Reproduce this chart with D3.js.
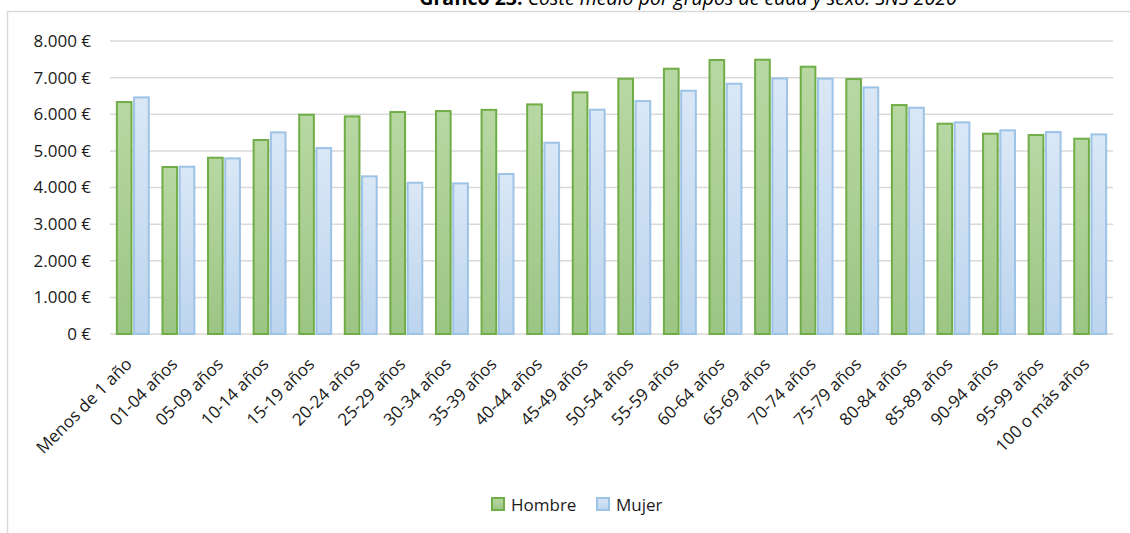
<!DOCTYPE html>
<html>
<head>
<meta charset="utf-8">
<script src="https://cdn.jsdelivr.net/npm/d3@7"></script>
<style>
  body { margin: 0; background: #fff; }
  svg { display: block; font-family: "Open Sans", sans-serif; }
</style>
</head>
<body>
<div id="root"></div>
<script>
const categories = ["Menos de 1 año", "01-04 años", "05-09 años", "10-14 años", "15-19 años",
  "20-24 años", "25-29 años", "30-34 años", "35-39 años", "40-44 años", "45-49 años",
  "50-54 años", "55-59 años", "60-64 años", "65-69 años", "70-74 años", "75-79 años",
  "80-84 años", "85-89 años", "90-94 años", "95-99 años", "100 o más años"];
const hombre = [6333, 4559, 4813, 5296, 5987, 5942, 6060, 6087, 6120, 6269, 6597,
  6970, 7243, 7480, 7489, 7298, 6961, 6251, 5742, 5469, 5432, 5332];
const mujer = [6460, 4568, 4795, 5505, 5077, 4304, 4131, 4113, 4368, 5223, 6124,
  6360, 6642, 6833, 6979, 6970, 6733, 6178, 5778, 5560, 5514, 5450];
const yTicks = [0, 1000, 2000, 3000, 4000, 5000, 6000, 7000, 8000];
const seriesNames = ["Hombre", "Mujer"];

const width = 1130, height = 533;
const margin = { top: 41, right: 17, bottom: 199, left: 110 };

const svg = d3.select("#root").append("svg")
  .attr("width", width)
  .attr("height", height);

// gradientes de relleno
const defs = svg.append("defs");
const grads = [
  { id: "gH", top: "#b8d8a3", bottom: "#9cc584" },
  { id: "gM", top: "#dae7f6", bottom: "#bcd5ee" }
];
grads.forEach(g => {
  const lg = defs.append("linearGradient").attr("id", g.id)
    .attr("x1", 0).attr("y1", 0).attr("x2", 0).attr("y2", 1);
  lg.append("stop").attr("offset", "0%").attr("stop-color", g.top);
  lg.append("stop").attr("offset", "100%").attr("stop-color", g.bottom);
});
const fills = { Hombre: "url(#gH)", Mujer: "url(#gM)" };
const strokes = { Hombre: "#70ad47", Mujer: "#9dc3e6" };

// marco
svg.append("rect")
  .attr("x", 7.5).attr("y", 11.5)
  .attr("width", width + 20).attr("height", height + 20)
  .attr("fill", "none").attr("stroke", "#d9d9d9").attr("stroke-width", 1.5);

// título (cortado arriba, como en el original)
const title = svg.append("text")
  .attr("x", 688).attr("y", 5)
  .attr("text-anchor", "middle")
  .attr("font-size", 19.5)
  .attr("fill", "#000");
title.append("tspan").attr("font-weight", "bold").text("Gráfico 23. ");
title.append("tspan").attr("font-style", "italic").text("Coste medio por grupos de edad y sexo. SNS 2020");

const x0 = d3.scaleBand()
  .domain(categories)
  .range([margin.left, width - margin.right])
  .paddingInner(0.3)
  .paddingOuter(0.15);

const x1 = d3.scaleBand()
  .domain(seriesNames)
  .range([0, x0.bandwidth()])
  .paddingInner(0.15);

const y = d3.scaleLinear()
  .domain([0, 8000])
  .range([height - margin.bottom, margin.top]);

const fmt = v => (v === 0 ? "0" : d3.format(",")(v).replace(/,/g, ".")) + " €";

// líneas de cuadrícula
svg.append("g")
  .selectAll("line")
  .data(yTicks)
  .join("line")
  .attr("x1", margin.left).attr("x2", width - margin.right)
  .attr("y1", d => y(d)).attr("y2", d => y(d))
  .attr("stroke", "#d9d9d9").attr("stroke-width", 1.5);

// eje Y
const yAxis = svg.append("g")
  .attr("transform", `translate(${margin.left},0)`)
  .call(d3.axisLeft(y).tickValues(yTicks).tickFormat(fmt).tickSize(0).tickPadding(19));
yAxis.select(".domain").remove();
yAxis.selectAll("text").attr("font-size", 17).attr("fill", "#1a1a1a")
  .attr("font-family", "'Open Sans', sans-serif");

// barras
const rows = categories.map((c, i) => ({ cat: c, values: [
  { key: "Hombre", value: hombre[i] },
  { key: "Mujer", value: mujer[i] }
] }));

const groups = svg.append("g")
  .selectAll("g")
  .data(rows)
  .join("g")
  .attr("transform", d => `translate(${x0(d.cat)},0)`);

groups.selectAll("rect")
  .data(d => d.values)
  .join("rect")
  .attr("x", d => x1(d.key))
  .attr("y", d => y(d.value))
  .attr("width", x1.bandwidth())
  .attr("height", d => y(0) - y(d.value))
  .attr("fill", d => fills[d.key])
  .attr("stroke", d => strokes[d.key])
  .attr("stroke-width", 2);

// eje X
const xAxis = svg.append("g")
  .attr("transform", `translate(0,${y(0)})`)
  .call(d3.axisBottom(x0).tickSize(0).tickPadding(0));
xAxis.select(".domain").remove();
xAxis.selectAll("text")
  .attr("font-size", 17).attr("fill", "#1a1a1a")
  .attr("font-family", "'Open Sans', sans-serif")
  .attr("text-anchor", "end")
  .attr("dy", "0.35em")
  .attr("transform", "translate(-4,27) rotate(-45)");

// leyenda
const legend = svg.append("g");
const legendItems = [
  { key: "Hombre", x: 492 },
  { key: "Mujer", x: 597 }
];
legendItems.forEach(it => {
  legend.append("rect")
    .attr("x", it.x).attr("y", 498)
    .attr("width", 12).attr("height", 12)
    .attr("fill", fills[it.key]).attr("stroke", strokes[it.key]).attr("stroke-width", 2);
  legend.append("text")
    .attr("x", it.x + 19).attr("y", 511)
    .attr("font-size", 17).attr("fill", "#1a1a1a")
    .text(it.key);
});
</script>
</body>
</html>
